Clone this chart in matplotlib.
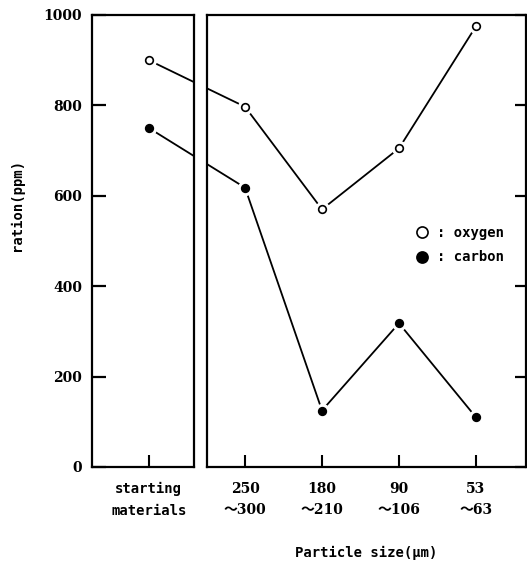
import matplotlib
matplotlib.use('Agg')
import matplotlib.pyplot as plt
from matplotlib.lines import Line2D

# 数据
categories = ['starting\nmaterials', '250\n〜300', '180\n〜210', '90\n〜106', '53\n〜63']
oxygen = [900, 797, 570, 705, 975]
carbon = [750, 618, 125, 318, 110]
y_ticks = [0, 200, 400, 600, 800, 1000]

# 横轴位置（单位：类别间距）
x_pos = [-0.25, 1, 2, 3, 4]

mono = ['DejaVu Sans Mono', 'Noto Sans CJK JP']
serif = ['DejaVu Serif', 'Noto Sans CJK JP']

W, H = 527, 562
fig = plt.figure(figsize=(W / 100, H / 100), dpi=100)

bottom = 1 - 467 / H
height = 452 / H
ax1 = fig.add_axes([92 / W, bottom, 102 / W, height])
ax2 = fig.add_axes([207 / W, bottom, 319 / W, height])

# 左：起始材料；右：各粒径
panels = [(ax1, (-0.99, 0.338), slice(0, 1)), (ax2, (0.506, 4.65), slice(1, None))]
for ax, xlim, sel in panels:
    ax.plot(x_pos, oxygen, color='black', lw=1.3, zorder=2)
    ax.plot(x_pos, carbon, color='black', lw=1.3, zorder=2)
    # 标记周围留白
    ax.plot(x_pos, oxygen, 'o', ms=10, color='white', zorder=3)
    ax.plot(x_pos, carbon, 'o', ms=10, color='white', zorder=3)
    ax.plot(x_pos, oxygen, 'o', ms=5.5, mfc='white', mec='black', mew=1.2, zorder=4)
    ax.plot(x_pos, carbon, 'o', ms=5.5, mfc='black', mec='black', mew=1.2, zorder=4)
    for s in ax.spines.values():
        s.set_linewidth(1.6)
    ax.set_xticks(x_pos[sel])
    ax.set_xticklabels(categories[sel], linespacing=1.65)
    ax.tick_params(axis='x', direction='in', length=9, width=1.5, pad=11)
    ax.set_yticks(y_ticks)
    ax.set_xlim(*xlim)
    ax.set_ylim(0, 1000)

ax1.tick_params(axis='y', direction='in', length=10, width=1.6, pad=7,
                left=True, right=False)
ax1.set_yticklabels([str(v) for v in y_ticks])
ax2.tick_params(axis='y', direction='in', length=8, width=1.6,
                left=False, right=True, labelleft=False, labelright=False)

for lab in ax1.get_yticklabels():
    lab.set_fontfamily(serif)
    lab.set_fontweight('bold')
    lab.set_fontsize(10)
for ax in (ax1, ax2):
    for lab in ax.get_xticklabels():
        if lab.get_text().startswith('starting'):
            lab.set_fontfamily(mono)
        else:
            lab.set_fontfamily(serif)
        lab.set_fontweight('bold')
        lab.set_fontsize(10)

fig.text(17 / W, 1 - 205 / H, 'ration(ppm)', rotation=90, ha='center', va='center',
         family=mono, fontweight='bold', fontsize=10)
fig.text(366 / W, 1 - 553 / H, 'Particle size(μm)', ha='center', va='center',
         family=mono, fontweight='bold', fontsize=10)

handles = [Line2D([], [], ls='none', marker='o', ms=8, mfc='white', mec='black', mew=1.2),
           Line2D([], [], ls='none', marker='o', ms=8, mfc='black', mec='black', mew=1.2)]
leg = ax2.legend(handles, [': oxygen', ': carbon'], loc='upper left',
                 bbox_to_anchor=(408 / W, 1 - 219 / H), bbox_transform=fig.transFigure,
                 frameon=False, borderpad=0, handlelength=1.0, handletextpad=0.6,
                 labelspacing=0.75, prop={'family': mono, 'weight': 'bold', 'size': 10})

fig.savefig('out.png', dpi=100)
